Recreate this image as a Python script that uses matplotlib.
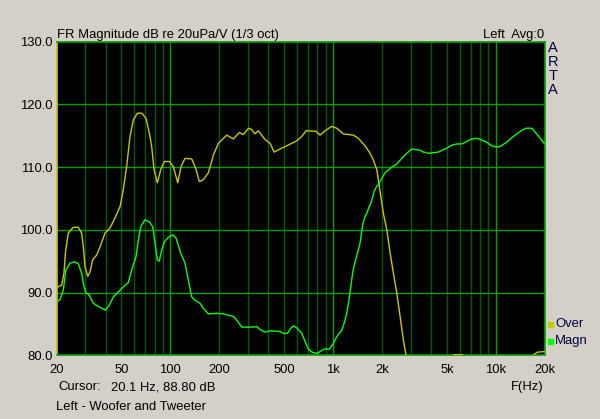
import numpy as np
import matplotlib
matplotlib.use("Agg")
import matplotlib.pyplot as plt
from matplotlib.patches import Rectangle

plt.rcParams['font.family'] = ['Liberation Sans', 'DejaVu Sans']

# "Over" curve (yellow), Hz / dB
over_f = [20.0, 21.5, 22.2, 22.7, 23.6, 25.3, 27.2, 28.5, 29.2, 29.9, 31.1, 32.1, 33.3,
          35.3, 37.0, 39.7, 42.6, 45.7, 49.1, 51.4, 53.9, 56.5, 59.2, 62.7, 66.7, 70.9,
          74.3, 76.8, 79.4, 83.2, 87.3, 91.8, 98.6, 104.3, 111, 116.3, 123.1, 135.4,
          143.2, 150.7, 159.5, 171.2, 183.7, 197.2, 206.8, 222, 244, 265, 281, 302, 316,
          331, 347, 382, 410, 434, 472, 519, 598, 642, 682, 786, 832, 893, 981, 1054,
          1157, 1333, 1430, 1572, 1688, 1769, 1856, 1944, 2037, 2138, 2240, 2347, 2462,
          2580, 2703, 2808, 3000, 4000, 5000, 5500, 6200, 7000, 10000, 14000, 16500,
          18000, 20000]
over_db = [90.8, 91.2, 93.1, 96.5, 99.5, 100.4, 100.4, 99.5, 97.3, 94.1, 92.6, 93.3, 95.2,
           96.0, 97.3, 99.5, 100.3, 101.9, 103.7, 106.4, 110.1, 114.9, 117.5, 118.6, 118.6, 117.8,
           115.4, 113.3, 109.6, 107.5, 109.6, 110.9, 110.9, 110.1, 107.5, 110.1, 111.4, 111.3,
           109.8, 107.7, 108.0, 109.1, 111.9, 113.8, 114.3, 115.1, 114.5, 115.5, 115.2, 116.2, 116.0,
           115.3, 115.8, 114.4, 113.8, 112.4, 112.9, 113.4, 114.2, 114.9, 115.8, 115.7, 115.1, 115.8,
           116.5, 116.2, 115.3, 115.1, 114.6, 113.4, 112.2, 111.1, 109.6, 106.1, 102.6, 100.0, 96.3,
           93.1, 89.9, 86.2, 82.4, 80.0, 77.0, 76.0, 78.5, 80.1, 80.1, 78.0, 76.0, 77.0, 79.8,
           80.5, 80.6]

# "Magn" curve (green), Hz / dB
magn_f = [20.0, 21.0, 22.0, 22.8, 24.2, 25.9, 27.2, 28.5, 29.2, 30.2, 31.8, 33.6, 36.1,
          37.9, 40.1, 42.6, 44.6, 47.9, 51.4, 55.2, 57.9, 61.5, 63.6, 65.8, 69.9, 74.3,
          77.9, 80.5, 83.2, 85.5, 88.5, 91.8, 97.2, 103.4, 108.4, 115.8, 123.1, 129, 135.4,
          141.8, 152, 159.5, 163.4, 171.2, 192.8, 211.6, 244, 256, 275, 324, 340, 356, 382,
          410, 472, 495, 524, 549, 570, 603, 642, 673, 705, 740, 801, 832, 880, 949, 1004,
          1054, 1131, 1185, 1224, 1272, 1321, 1365, 1430, 1464, 1513, 1535, 1588, 1610,
          1664, 1704, 1753, 1786, 1856, 1898, 1991, 2086, 2294, 2462, 2644, 2836, 3044,
          3424, 3588, 3852, 4436, 4878, 5364, 5756, 6180, 6632, 7118, 7642, 8006, 8594,
          9450, 10140, 10626, 11686, 12824, 14102, 15284, 16642, 17684, 18714, 19608, 20000]
magn_db = [88.5, 88.9, 90.4, 93.6, 94.7, 94.9, 94.6, 93.1, 91.5, 90.0, 89.6, 88.3, 87.8,
           87.5, 87.2, 88.2, 89.3, 90.1, 90.9, 91.6, 93.6, 95.7, 98.4, 100.5, 101.6, 101.3,
           100.5, 97.9, 95.2, 95.0, 96.8, 98.1, 98.8, 99.2, 98.7, 96.3, 94.7, 92.0, 89.3,
           88.8, 88.3, 87.5, 87.2, 86.6, 86.7, 86.6, 86.2, 85.6, 84.5, 84.5, 84.6, 84.1, 83.7,
           83.9, 83.8, 83.5, 83.5, 84.3, 84.7, 84.3, 83.5, 82.2, 81.0, 80.5, 80.3, 80.6, 81.0, 81.0, 81.9,
           83.0, 84.0, 85.6, 87.2, 90.1, 93.3, 94.9, 96.8, 97.9, 100.5, 101.3, 102.4, 102.6,
           103.7, 104.2, 105.3, 106.1, 107.0, 107.2, 108.2, 109.1, 110.0, 110.5, 111.4, 112.2, 112.9,
           112.7, 112.4, 112.2, 112.4, 112.9, 113.5, 113.7, 113.7, 114.1, 114.5, 114.6, 114.4, 114.1,
           113.4, 113.2, 113.3, 114.0, 114.9, 115.7, 116.2, 116.2, 115.4, 114.6, 113.9, 113.7]

x_ticks = [20, 50, 100, 200, 500, 1000, 2000, 5000, 10000, 20000]
x_labels = ['20', '50', '100', '200', '500', '1k', '2k', '5k', '10k', '20k']
y_ticks = [80, 90, 100, 110, 120, 130]

bg = '#D4D0C8'
yel = '#C8C800'
grn = '#00FF00'
grid_hi = '#00A000'
grid_lo = '#005A00'
fs = 9.4

fig = plt.figure(figsize=(6.0, 4.19), dpi=100, facecolor=bg)
ax = fig.add_axes([0.0943, 0.152, 0.8138, 0.7485], facecolor='black')

# vertical grid: every 1-2-3.. step, decades brighter
vlines = list(range(30, 100, 10)) + list(range(200, 1000, 100)) + \
         list(range(2000, 10000, 1000))
for f in vlines:
    ax.axvline(f, color=grid_lo, lw=1.0, zorder=1)
for f in [100, 1000, 10000]:
    ax.axvline(f, color=grid_hi, lw=1.0, zorder=1)
for d in [90, 100, 110, 120]:
    ax.axhline(d, color=grid_hi, lw=1.0, zorder=1)

ax.plot(over_f, over_db, color=yel, lw=1.0, zorder=3)
ax.plot(magn_f, magn_db, color=grn, lw=1.0, zorder=4)

ax.set_xscale('log')
ax.set_xlim(20, 20000)
ax.set_ylim(80, 130)
ax.set_xticks(x_ticks)
ax.set_xticklabels(x_labels)
ax.xaxis.set_minor_locator(matplotlib.ticker.NullLocator())
ax.set_yticks(y_ticks)
ax.set_yticklabels(['%.1f' % v for v in y_ticks])
ax.tick_params(axis='both', length=0, labelsize=fs, colors='black')
ax.tick_params(axis='x', pad=6)
ax.tick_params(axis='y', pad=3)

for s in ['top', 'bottom', 'right']:
    ax.spines[s].set_color(grid_hi)
    ax.spines[s].set_linewidth(1.2)
ax.spines['left'].set_color(yel)
ax.spines['left'].set_linewidth(1.2)

W, H = 600.0, 419.0
def fx(px):
    return px / W
def fy(py):
    return 1 - py / H

fig.text(fx(57), fy(35), 'FR Magnitude dB re 20uPa/V (1/3 oct)', fontsize=fs, va='center', ha='left')
fig.text(fx(544), fy(35), 'Left  Avg:0', fontsize=fs, va='center', ha='right')
for i, ch in enumerate('ARTA'):
    fig.text(fx(553), fy(48 + 14 * i), ch, fontsize=10.5, va='center', ha='center', color='#000040')

fig.text(fx(58), fy(387), 'Cursor:', fontsize=fs, va='center', ha='left')
fig.text(fx(111), fy(387), '20.1 Hz, 88.80 dB', fontsize=fs, va='center', ha='left')
fig.text(fx(544), fy(387), 'F(Hz)', fontsize=fs, va='center', ha='right')
fig.text(fx(56), fy(407), 'Left - Woofer and Tweeter', fontsize=fs, va='center', ha='left')

# legend
for py, col, name in [(324, yel, 'Over'), (341, grn, 'Magn')]:
    fig.patches.append(Rectangle((fx(548), fy(py + 2.5)), 4.5 / W, 5 / H,
                                 transform=fig.transFigure, color=col))
    fig.text(fx(555), fy(py), name, fontsize=fs, va='center', ha='left', color='#000040')

fig.savefig('out.png', dpi=100, facecolor=bg)
